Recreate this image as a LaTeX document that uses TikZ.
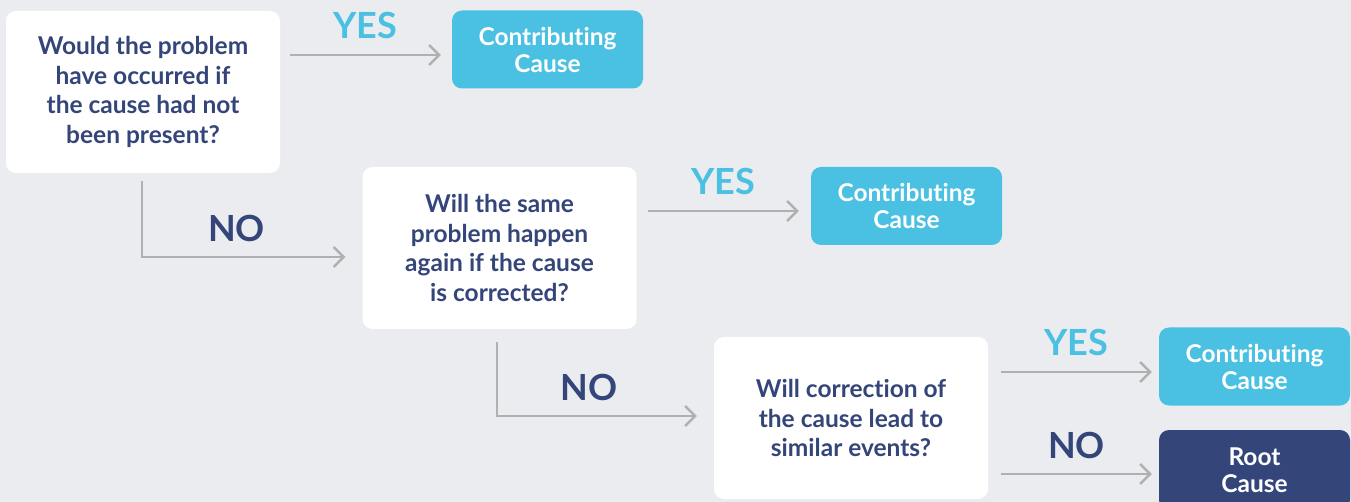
\documentclass[tikz,border=0pt]{standalone}
\usepackage{fontspec}
\setmainfont{Lato}[Ligatures=NoCommon]
\usetikzlibrary{arrows.meta,calc}

\definecolor{bggray}{HTML}{EBECF0}
\definecolor{qnavy}{HTML}{34457A}
\definecolor{ccyan}{HTML}{4AC0E2}
\definecolor{arrgray}{HTML}{B0B0B0}

\tikzset{
  question/.style={fill=white, rounded corners=10pt, minimum width=274pt, minimum height=162pt,
    align=center, text=qnavy, font=\bfseries\fontsize{24.5}{29.5}\selectfont},
  outcome/.style={fill=ccyan, rounded corners=10pt, minimum width=191pt, minimum height=78pt,
    align=center, text=white, font=\bfseries\fontsize{24.5}{27}\selectfont},
  rootbox/.style={outcome, fill=qnavy, minimum height=80pt},
  arr/.style={draw=arrgray, line width=2.5pt, -{Straight Barb[length=10pt,width=20pt]}},
  yeslbl/.style={text=ccyan, font=\bfseries\fontsize{36}{36}\selectfont, inner sep=0pt},
  nolbl/.style={yeslbl, text=qnavy},
}

\begin{document}
\begin{tikzpicture}[x=1pt, y=-1pt]

    %background
    \fill[bggray] (0,0) rectangle (1351,502);
    \useasboundingbox (0,0) rectangle (1351,502);
    \clip (0,0) rectangle (1351,502);

    %questions
    \node[question] (q1) at (143,92) {Would the problem\\have occurred if\\the cause had not\\been present?};
    \node[question] (q2) at (499.5,248) {Will the same\\problem happen\\again if the cause\\is corrected?};
    \node[question] (q3) at (851,418) {Will correction of\\the cause lead to\\similar events?};

    %outcomes
    \node[outcome] (cc1) at (547.5,49.5) {Contributing\\Cause};
    \node[outcome] (cc2) at (906.5,206) {Contributing\\Cause};
    \node[outcome] (cc3) at (1254.5,366.5) {Contributing\\Cause};
    \node[rootbox] (rc) at (1254.5,470) {Root\\Cause};

    %yes branches
    \draw[arr] ($(q1.east |- cc1.west)+(10,5.5)$) -- node[yeslbl, above=15pt] {YES} ($(cc1.west)+(-11,5.5)$);
    \draw[arr] ($(q2.east |- cc2.west)+(11,5)$) -- node[yeslbl, above=15pt] {YES} ($(cc2.west)+(-12,5)$);
    \draw[arr] ($(q3.east |- cc3.west)+(13,5.5)$) -- node[yeslbl, above=15pt] {YES} ($(cc3.west)+(-7,5.5)$);

    %no branches
    \draw[arr] ($(q1.south)+(-1,8)$) |- node[nolbl, pos=0.75, above=14pt, xshift=-7pt] {NO} ($(q2.west)+(-17,9)$);
    \draw[arr] ($(q2.south)+(-2.5,12.5)$) |- node[nolbl, pos=0.75, above=14pt, xshift=-8pt] {NO} ($(q3.west)+(-17,-2)$);
    \draw[arr] ($(q3.east |- rc.west)+(13,4)$) -- node[nolbl, above=14pt] {NO} ($(rc.west)+(-7,4)$);

\end{tikzpicture}
\end{document}
